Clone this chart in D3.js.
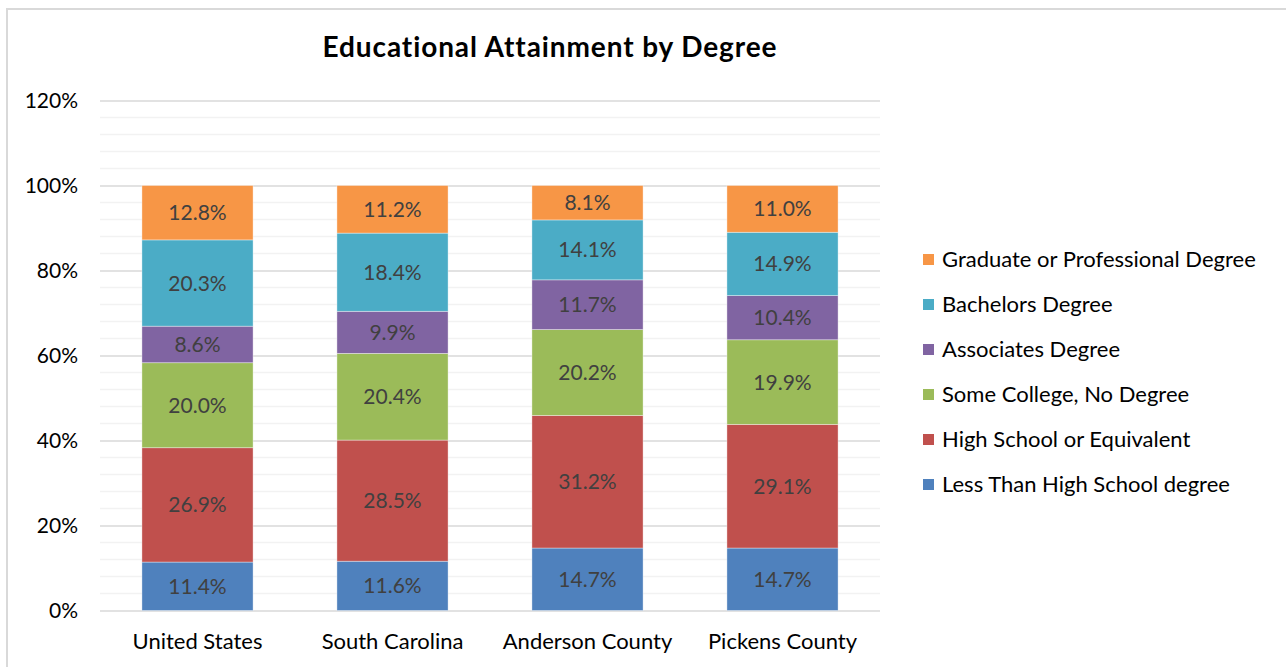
<!DOCTYPE html>
<html>
<head>
<meta charset="utf-8">
<script src="https://cdn.jsdelivr.net/npm/d3@7"></script>
<style>
  html, body { margin: 0; padding: 0; background: #fff; }
  svg { display: block; font-family: Lato, "Open Sans", sans-serif; }
</style>
</head>
<body>
<svg id="chart" width="1286" height="667"></svg>
<script>
// Categories and series (percent of population 25+)
const categories = ["United States", "South Carolina", "Anderson County", "Pickens County"];
const seriesNames = [
  "Less Than High School degree",
  "High School or Equivalent",
  "Some College, No Degree",
  "Associates Degree",
  "Bachelors Degree",
  "Graduate or Professional Degree"
];
const lessThanHS   = [11.4, 11.6, 14.7, 14.7];
const highSchool   = [26.9, 28.5, 31.2, 29.1];
const someCollege  = [20.0, 20.4, 20.2, 19.9];
const associates   = [8.6, 9.9, 11.7, 10.4];
const bachelors    = [20.3, 18.4, 14.1, 14.9];
const graduate     = [12.8, 11.2, 8.1, 11.0];
const yTicks = [0, 20, 40, 60, 80, 100, 120];
const colors = ["#4F81BD", "#C0504D", "#9BBB59", "#8064A2", "#4BACC6", "#F79646"];

const seriesValues = [lessThanHS, highSchool, someCollege, associates, bachelors, graduate];
const rows = categories.map((c, i) => {
  const r = { category: c };
  seriesNames.forEach((s, k) => { r[s] = seriesValues[k][i]; });
  return r;
});

const svg = d3.select("#chart");

// Outer chart border
svg.append("path")
  .attr("d", "M7,667 L7,9 L1286,9")
  .attr("fill", "none")
  .attr("stroke", "#d9d9d9")
  .attr("stroke-width", 2);

const plot = { left: 100, right: 880, top: 100.5, bottom: 610.5 };

const x = d3.scaleBand().domain(categories).range([plot.left, plot.right]).paddingInner(0.43).paddingOuter(0.215);
const y = d3.scaleLinear().domain([0, 120]).range([plot.bottom, plot.top]);

// Minor gridlines every 4%
const minor = d3.range(4, 120, 4).filter(v => v % 20 !== 0);
svg.append("g").selectAll("line").data(minor).join("line")
  .attr("x1", plot.left).attr("x2", plot.right)
  .attr("y1", d => y(d)).attr("y2", d => y(d))
  .attr("stroke", "#f2f2f2").attr("stroke-width", 1.5);

// Major gridlines and tick labels
const yAxis = d3.axisLeft(y).tickValues(yTicks).tickFormat(d => d + "%").tickSize(-(plot.right - plot.left)).tickPadding(22);
const gy = svg.append("g").attr("transform", `translate(${plot.left},0)`).call(yAxis);
gy.select(".domain").remove();
gy.selectAll(".tick line").attr("stroke", "#d9d9d9").attr("stroke-width", 1.5);
gy.selectAll(".tick text").attr("fill", "#000").style("font-size", "21px").style("font-family", "Lato, sans-serif");

// Stacked bars
const stack = d3.stack().keys(seriesNames)(rows);
const layers = svg.append("g").selectAll("g").data(stack).join("g")
  .attr("fill", (d, i) => colors[i]);

layers.selectAll("rect").data(d => d).join("rect")
  .attr("x", d => x(d.data.category))
  .attr("width", x.bandwidth())
  .attr("y", d => y(d[1]))
  .attr("height", d => y(d[0]) - y(d[1]))
  .attr("stroke", "rgba(255,255,255,0.5)")
  .attr("stroke-width", 0.75);

// Value labels inside segments
layers.selectAll("text").data(d => d.map(v => ({ v, key: d.key }))).join("text")
  .attr("x", d => x(d.v.data.category) + x.bandwidth() / 2)
  .attr("y", d => y((d.v[0] + d.v[1]) / 2))
  .attr("dy", "0.36em")
  .attr("text-anchor", "middle")
  .attr("fill", "#404040")
  .style("font-size", "21px")
  .text(d => d.v.data[d.key].toFixed(1) + "%");

// Category axis labels
svg.append("g").selectAll("text").data(categories).join("text")
  .attr("x", d => x(d) + x.bandwidth() / 2)
  .attr("y", 641)
  .attr("dy", "0.36em")
  .attr("text-anchor", "middle")
  .attr("fill", "#000")
  .style("font-size", "22px")
  .text(d => d);

// Title
svg.append("text")
  .attr("x", 550).attr("y", 47)
  .attr("dy", "0.36em")
  .attr("text-anchor", "middle")
  .attr("fill", "#000")
  .style("font-size", "28px")
  .style("font-weight", "bold")
  .style("letter-spacing", "0.9px")
  .text("Educational Attainment by Degree");

// Legend (top entry is the top series)
const legendItems = seriesNames.slice().reverse();
const lg = svg.append("g").selectAll("g").data(legendItems).join("g")
  .attr("transform", (d, i) => `translate(923,${259 + i * 45})`);
lg.append("rect")
  .attr("x", 0).attr("y", -5).attr("width", 11).attr("height", 11)
  .attr("fill", d => colors[seriesNames.indexOf(d)]);
lg.append("text")
  .attr("x", 19).attr("y", 0).attr("dy", "0.36em")
  .attr("fill", "#000")
  .style("font-size", "22px")
  .text(d => d);
</script>
</body>
</html>
